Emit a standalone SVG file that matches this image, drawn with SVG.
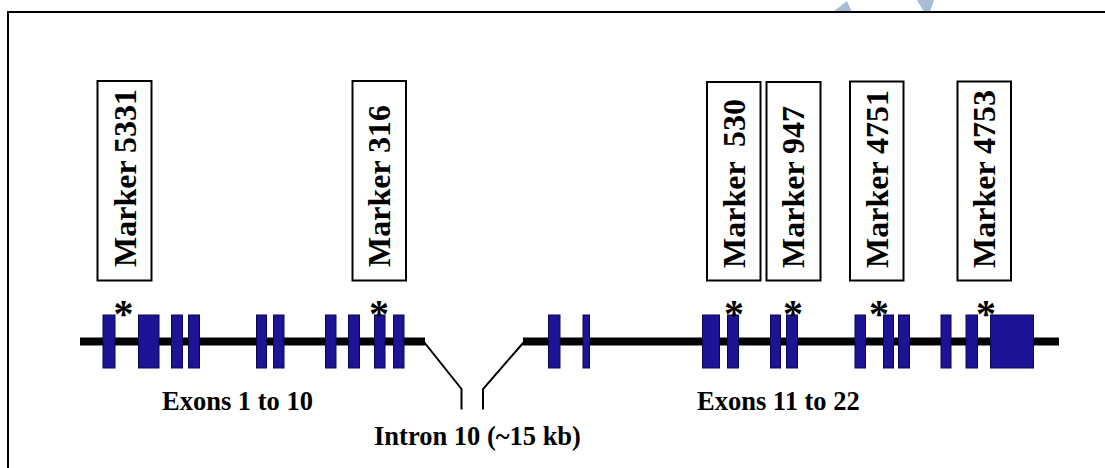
<svg xmlns="http://www.w3.org/2000/svg" width="1105" height="468" viewBox="0 0 1105 468">
<style>
.frame{fill:none;stroke:#000;stroke-width:2}
.mbox{fill:#fff;stroke:#000;stroke-width:2}
.mtxt{font-family:"Liberation Serif","Times New Roman",serif;font-weight:bold;font-size:32px;fill:#000}
.lbl{font-family:"Liberation Serif","Times New Roman",serif;font-weight:bold;font-size:26.5px;fill:#000}
.ast{font-family:"Liberation Serif","Times New Roman",serif;font-weight:bold;font-size:40px;fill:#000;text-anchor:middle}
.exon{fill:#1c1495;stroke:#0a0650;stroke-width:1}
.gene{stroke:#000;stroke-width:8;stroke-linecap:butt}
.intron{fill:none;stroke:#000;stroke-width:2}
.wm{fill:#a8bcd6}
</style>
<rect width="1105" height="468" fill="#fff"/>
<polygon class="wm" points="833,12 847,1 852,12"/>
<polygon class="wm" points="917,0 934,0 930,12 924,12"/>
<path class="frame" d="M8,468 V12 H1105"/>

<g id="markers">
  <g id="marker-5331"><rect class="mbox" x="97.5" y="81" width="54" height="199.5"/><text class="mtxt" transform="translate(135.5,267) rotate(-90)">Marker 5331</text></g>
  <g id="marker-316"><rect class="mbox" x="352.5" y="81" width="53.5" height="199.5"/><text class="mtxt" transform="translate(390,267) rotate(-90)">Marker 316</text></g>
  <g id="marker-530"><rect class="mbox" x="707" y="82" width="53.5" height="198.5"/><text class="mtxt" transform="translate(744.5,268) rotate(-90)">Marker <tspan dx="7">530</tspan></text></g>
  <g id="marker-947"><rect class="mbox" x="766.5" y="82" width="54" height="198.5"/><text class="mtxt" transform="translate(804,268) rotate(-90)">Marker 947</text></g>
  <g id="marker-4751"><rect class="mbox" x="850" y="81.5" width="53.5" height="199"/><text class="mtxt" transform="translate(887.5,268) rotate(-90)">Marker 4751</text></g>
  <g id="marker-4753"><rect class="mbox" x="957.5" y="81.5" width="53.5" height="199"/><text class="mtxt" transform="translate(995,268) rotate(-90)">Marker 4753</text></g>
</g>

<g id="connectors">
  <line class="gene" x1="80" y1="341.5" x2="425" y2="341.5"/>
  <line class="gene" x1="523" y1="341.5" x2="1059" y2="341.5"/>
  <polyline class="intron" points="424,342 461.5,389 461.5,409.5"/>
  <polyline class="intron" points="524,342 483,389 483,409.5"/>
</g>

<g id="exons-1-10">
  <rect class="exon" x="103" y="315" width="12" height="53"/>
  <rect class="exon" x="138.5" y="315" width="20.5" height="53"/>
  <rect class="exon" x="171.5" y="315" width="11" height="53"/>
  <rect class="exon" x="188.5" y="315" width="11" height="53"/>
  <rect class="exon" x="256.5" y="315" width="10" height="53"/>
  <rect class="exon" x="273.5" y="315" width="10.5" height="53"/>
  <rect class="exon" x="325.5" y="315" width="10.5" height="53"/>
  <rect class="exon" x="348.5" y="315" width="11" height="53"/>
  <rect class="exon" x="374.5" y="315" width="10.5" height="53"/>
  <rect class="exon" x="393.5" y="315" width="10.5" height="53"/>
</g>

<g id="exons-11-22">
  <rect class="exon" x="548.5" y="315" width="11.5" height="53"/>
  <rect class="exon" x="583" y="315" width="6.5" height="53"/>
  <rect class="exon" x="702.5" y="315" width="17" height="53"/>
  <rect class="exon" x="727.5" y="315" width="11" height="53"/>
  <rect class="exon" x="770.5" y="315" width="10" height="53"/>
  <rect class="exon" x="786.5" y="315" width="11" height="53"/>
  <rect class="exon" x="855" y="315" width="10.5" height="53"/>
  <rect class="exon" x="883.5" y="315" width="10" height="53"/>
  <rect class="exon" x="898.5" y="315" width="11" height="53"/>
  <rect class="exon" x="941" y="315" width="10" height="53"/>
  <rect class="exon" x="966" y="315" width="11.5" height="53"/>
  <rect class="exon" x="990.5" y="315" width="43" height="53"/>
</g>

<g id="asterisks">
  <text class="ast" x="123.5" y="327">*</text>
  <text class="ast" x="379" y="327">*</text>
  <text class="ast" x="734" y="327">*</text>
  <text class="ast" x="793" y="327">*</text>
  <text class="ast" x="879" y="327">*</text>
  <text class="ast" x="986" y="327">*</text>
</g>

<g id="labels">
  <text class="lbl" x="162" y="410">Exons 1 to 10</text>
  <text class="lbl" x="697" y="410">Exons 11 to 22</text>
  <text class="lbl" x="374" y="445">Intron 10 (~15 kb)</text>
</g>
</svg>
